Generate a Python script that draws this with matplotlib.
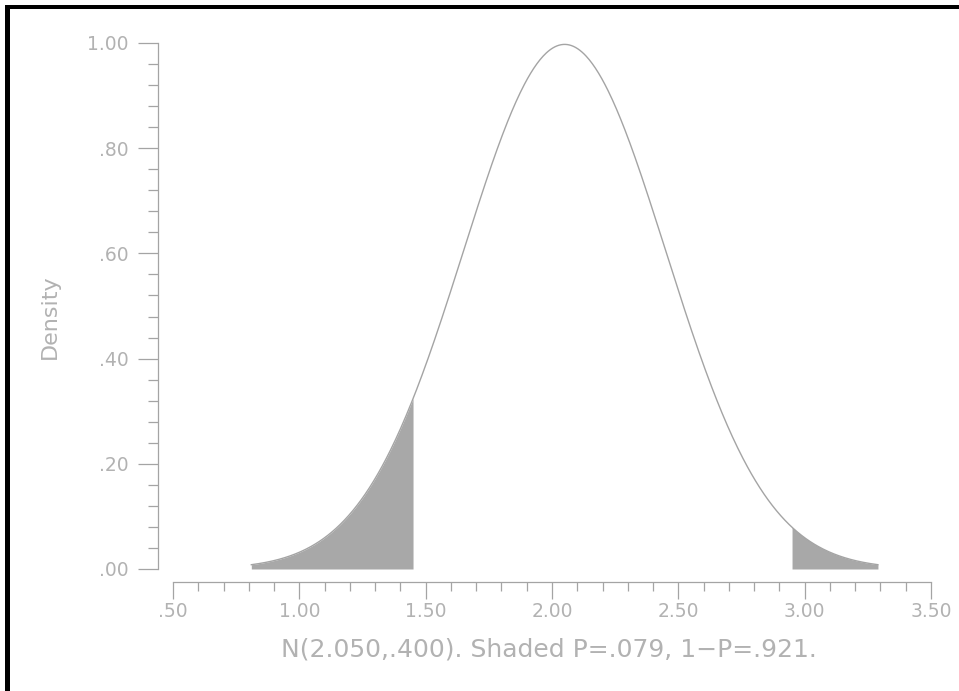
import numpy as np
import matplotlib
matplotlib.use("Agg")
import matplotlib.pyplot as plt
from matplotlib.patches import Rectangle
from matplotlib.ticker import FixedLocator

# Distribution shown in the chart: N(2.050, .400)
MEAN = 2.05
SD = 0.40
CURVE_START = 0.81     # curve drawn over mean +/- 3.1 sd
CURVE_END = 3.29
LEFT_CUT = 1.45        # shaded tails
RIGHT_CUT = 2.95

x_ticks = [0.5, 1.0, 1.5, 2.0, 2.5, 3.0, 3.5]
x_tick_labels = [".50", "1.00", "1.50", "2.00", "2.50", "3.00", "3.50"]
x_minor = [0.6, 0.7, 0.8, 0.9, 1.1, 1.2, 1.3, 1.4, 1.6, 1.7, 1.8, 1.9,
           2.1, 2.2, 2.3, 2.4, 2.6, 2.7, 2.8, 2.9, 3.1, 3.2, 3.3, 3.4]
y_ticks = [0.0, 0.2, 0.4, 0.6, 0.8, 1.0]
y_tick_labels = [".00", ".20", ".40", ".60", ".80", "1.00"]
y_minor = [0.04, 0.08, 0.12, 0.16, 0.24, 0.28, 0.32, 0.36, 0.44, 0.48,
           0.52, 0.56, 0.64, 0.68, 0.72, 0.76, 0.84, 0.88, 0.92, 0.96]

title_text = "N(2.050,.400). Shaded P=.079, 1\u2212P=.921."

LINE_COLOR = "#a4a4a4"
FILL_COLOR = "#a8a8a8"
TEXT_COLOR = "#b2b2b2"


def pdf(x):
    return np.exp(-0.5 * ((x - MEAN) / SD) ** 2) / (SD * np.sqrt(2 * np.pi))


W, H = 959, 691
PT = 72 / 100   # points per pixel at dpi 100
fig = plt.figure(figsize=(W / 100, H / 100), dpi=100)
fig.patch.set_facecolor("white")
ax = fig.add_axes([173 / W, 1 - 569 / H, (931 - 173) / W, (569 - 43) / H])

xs = np.linspace(CURVE_START, CURVE_END, 600)
ax.plot(xs, pdf(xs), color=LINE_COLOR, lw=1.0)

xl = np.linspace(CURVE_START, LEFT_CUT, 200)
ax.fill_between(xl, 0, pdf(xl), color=FILL_COLOR, lw=0)
xr = np.linspace(RIGHT_CUT, CURVE_END, 100)
ax.fill_between(xr, 0, pdf(xr), color=FILL_COLOR, lw=0)

ax.set_xlim(0.5, 3.5)
ax.set_ylim(0, 1)

for s in ["top", "right"]:
    ax.spines[s].set_visible(False)
ax.spines["left"].set_position(("outward", 15 * PT))
ax.spines["bottom"].set_position(("outward", 13 * PT))
ax.spines["left"].set_bounds(0, 1)
ax.spines["bottom"].set_bounds(0.5, 3.5)
for s in ["left", "bottom"]:
    ax.spines[s].set_color(LINE_COLOR)
    ax.spines[s].set_linewidth(0.9)

ax.xaxis.set_major_locator(FixedLocator(x_ticks))
ax.xaxis.set_minor_locator(FixedLocator(x_minor))
ax.set_xticklabels(x_tick_labels)
ax.yaxis.set_major_locator(FixedLocator(y_ticks))
ax.yaxis.set_minor_locator(FixedLocator(y_minor))
ax.set_yticklabels(y_tick_labels)

ax.tick_params(axis="x", which="major", length=17 * PT, width=0.9, color=LINE_COLOR,
               labelcolor=TEXT_COLOR, labelsize=13.5, pad=2)
ax.tick_params(axis="x", which="minor", length=8.5 * PT, width=0.9, color=LINE_COLOR)
ax.tick_params(axis="y", which="major", length=20 * PT, width=0.9, color=LINE_COLOR,
               labelcolor=TEXT_COLOR, labelsize=13.5, pad=7)
ax.tick_params(axis="y", which="minor", length=10 * PT, width=0.9, color=LINE_COLOR)

fig.text(50 / W, 1 - 317 / H, "Density", rotation=90, ha="center", va="center",
         color=TEXT_COLOR, fontsize=16)
fig.text(549 / W, 1 - 649 / H, title_text, ha="center", va="center",
         color=TEXT_COLOR, fontsize=18)

# heavy black frame on the left and top edges
fig.add_artist(Rectangle((5 / W, 0), 5 / W, (H - 5) / H, transform=fig.transFigure,
                         color="black", lw=0))
fig.add_artist(Rectangle((5 / W, (H - 9) / H), (W - 5) / W, 4 / H,
                         transform=fig.transFigure, color="black", lw=0))

fig.savefig("out.png", dpi=100, facecolor="white")
